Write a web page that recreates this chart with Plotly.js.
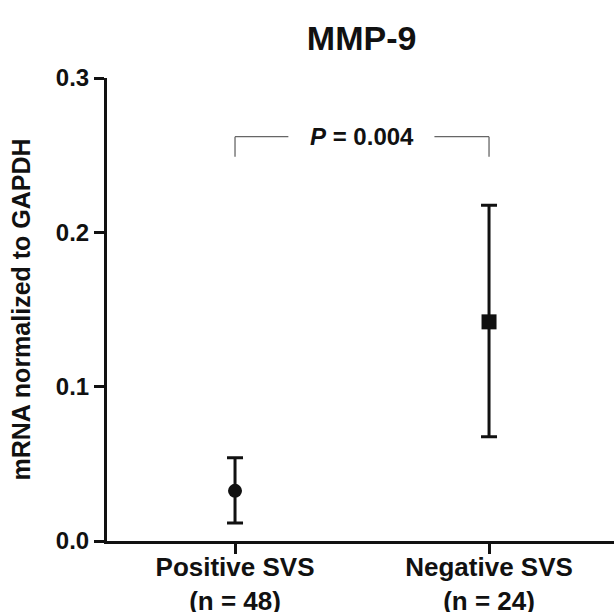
<!DOCTYPE html>
<html>
<head>
<meta charset="utf-8">
<script src="https://cdn.plot.ly/plotly-3.0.1.min.js"></script>
<style>
html,body{margin:0;padding:0;background:#fff;}
#chart{width:614px;height:612px;}
</style>
</head>
<body>
<div id="chart"></div>
<script>
// Data
const groupNames = ['Positive SVS', 'Negative SVS'];
const groupN = [48, 24];
const means = [0.0325, 0.142];
const errUp = [0.0215, 0.0755];
const errDown = [0.0208, 0.0745];
const markerSymbols = ['circle', 'square'];
const pLabel = 'P = 0.004';
const bracketTop = 0.262;
const bracketFoot = 0.249;
const bracketGap = [0.21, 0.785];
const yTicks = [0, 0.1, 0.2, 0.3];

const xIdx = groupNames.map((_, i) => i);
const tickText = groupNames.map((g, i) => g + '<br>(n = ' + groupN[i] + ')');

const FONT = 'Liberation Sans, Arial, sans-serif';

const traces = xIdx.map(i => ({
  type: 'scatter',
  mode: 'markers',
  x: [xIdx[i]],
  y: [means[i]],
  marker: {symbol: markerSymbols[i], size: i === 0 ? 14 : 15, color: '#111'},
  error_y: {type: 'data', symmetric: false, array: [errUp[i]], arrayminus: [errDown[i]],
            color: '#111', thickness: 3, width: 8},
  showlegend: false,
  hoverinfo: 'skip'
}));

const bracketColor = '#666';
const shapes = [
  {type: 'line', xref: 'x', yref: 'y', x0: xIdx[0], x1: xIdx[0], y0: bracketFoot, y1: bracketTop, line: {color: bracketColor, width: 1.3}},
  {type: 'line', xref: 'x', yref: 'y', x0: xIdx[0], x1: bracketGap[0], y0: bracketTop, y1: bracketTop, line: {color: bracketColor, width: 1.3}},
  {type: 'line', xref: 'x', yref: 'y', x0: bracketGap[1], x1: xIdx[1], y0: bracketTop, y1: bracketTop, line: {color: bracketColor, width: 1.3}},
  {type: 'line', xref: 'x', yref: 'y', x0: xIdx[1], x1: xIdx[1], y0: bracketFoot, y1: bracketTop, line: {color: bracketColor, width: 1.3}}
];

const pParts = pLabel.split(' = ');
const layout = {
  width: 614, height: 612,
  margin: {l: 107, r: 0, t: 78, b: 71},
  paper_bgcolor: '#fff', plot_bgcolor: '#fff',
  font: {family: FONT, color: '#111', size: 24, weight: 'bold'},
  title: {text: 'MMP-9', font: {family: FONT, size: 34, weight: 'bold', color: '#111'},
          x: 0.589, xref: 'container', xanchor: 'center', y: 1 - 38/612, yanchor: 'middle'},
  xaxis: {
    range: [-0.504, 1.492], tickvals: xIdx, ticktext: tickText,
    showline: true, linecolor: '#111', linewidth: 3,
    ticks: 'outside', ticklen: 10, tickwidth: 3, tickcolor: '#111',
    ticklabelstandoff: -9,
    showgrid: false, zeroline: false, fixedrange: true,
    tickfont: {family: FONT, size: 26, weight: 'bold', color: '#111'}
  },
  yaxis: {
    range: [0, 0.3], tickvals: yTicks, tickformat: '.1f',
    showline: true, linecolor: '#111', linewidth: 3,
    ticks: 'outside', ticklen: 10, tickwidth: 3, tickcolor: '#111',
    showgrid: false, zeroline: false, fixedrange: true,
    tickfont: {family: FONT, size: 24, weight: 'bold', color: '#111'},
    title: {text: 'mRNA normalized to GAPDH', standoff: 19,
            font: {family: FONT, size: 25, weight: 'bold', color: '#111'}}
  },
  shapes: shapes,
  annotations: [{
    xref: 'x', yref: 'y', x: (xIdx[0] + xIdx[1]) / 2, y: bracketTop,
    text: '<i>' + pParts[0] + '</i> = ' + pParts[1], showarrow: false,
    xanchor: 'center', yanchor: 'middle',
    font: {family: FONT, size: 24, weight: 'bold', color: '#111'}
  }]
};

Plotly.newPlot('chart', traces, layout, {displayModeBar: false, staticPlot: true});
</script>
</body>
</html>
